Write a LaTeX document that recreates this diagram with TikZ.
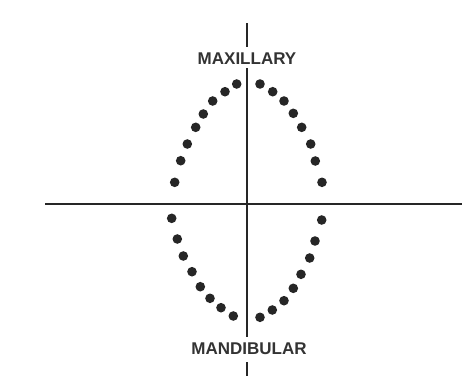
\documentclass[tikz,border=0pt]{standalone}
\usepackage{fontspec}
\setmainfont{Liberation Sans}
\begin{document}
\begin{tikzpicture}[x=1pt,y=-1pt,
  axis/.style={line width=2.2pt,black!85},
  tooth/.style={circle,fill=black!85,inner sep=0pt,minimum size=9.6pt},
  lbl/.style={font=\fontsize{17}{20}\selectfont\bfseries,text=black!80,inner sep=0pt}]
\useasboundingbox[fill=white] (0,0) rectangle (464,376);
% axes
\coordinate (vt0) at (247,23);
\coordinate (vt1) at (247,47);
\coordinate (vm0) at (247,68);
\coordinate (vm1) at (247,337);
\coordinate (vb0) at (247,362);
\coordinate (vb1) at (247,376);
\coordinate (hl) at (45,204);
\coordinate (hr) at (462,204);
\draw[axis] (vt0) -- (vt1);
\draw[axis] (vm0) -- (vm1);
\draw[axis] (vb0) -- (vb1);
\draw[axis] (hl) -- (hr);
% labels
\node[lbl] (max) at (247,59) {MAXILLARY};
\node[lbl] (man) at (249,349) {MANDIBULAR};
% upper arch
\foreach \x/\y [count=\i] in {236.7/84,225/91.7,212.7/101,203.3/114,195.7/127.3,187.3/144,180.7/160.7,174.7/182.3,
  260/84,272.7/91.7,284/101,293.3/113.3,301.7/127.3,310.7/144,315.3/161,322/182.3}
  \node[tooth] (u\i) at (\x,\y) {};
% lower arch
\foreach \x/\y [count=\i] in {171.7/218.3,177.3/239,183.3/256,192/271.7,200.3/286.7,210/298.3,221/307.7,233.3/316,
  260/317.3,272.3/310,284/300.7,293.3/288.3,301/274.3,309.7/258,315/241,321.7/220}
  \node[tooth] (l\i) at (\x,\y) {};
\end{tikzpicture}
\end{document}
